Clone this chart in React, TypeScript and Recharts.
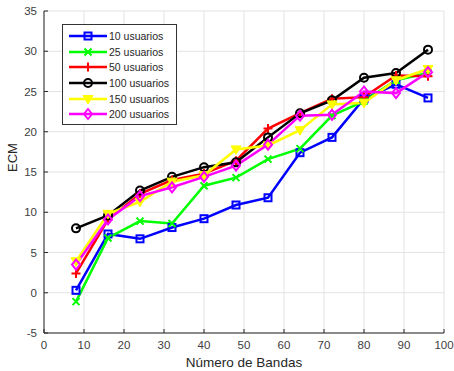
import React from 'react';
import { LineChart, Line, XAxis, YAxis, CartesianGrid, Legend } from 'recharts';

// Número de bandas (eje X)
const bandas = [8, 16, 24, 32, 40, 48, 56, 64, 72, 80, 88, 96];

// ECM por número de usuarios
const ecm10 = [0.3, 7.3, 6.7, 8.1, 9.2, 10.9, 11.8, 17.4, 19.3, 24.1, 25.9, 24.2];
const ecm25 = [-1.1, 6.8, 8.9, 8.6, 13.3, 14.3, 16.6, 17.9, 22.0, 23.8, 26.4, 27.3];
const ecm50 = [2.4, 9.1, 12.3, 14.0, 14.8, 16.4, 20.4, 22.3, 24.1, 24.3, 27.0, 26.9];
const ecm100 = [8.0, 9.6, 12.7, 14.4, 15.6, 16.2, 19.3, 22.3, 23.9, 26.7, 27.3, 30.2];
const ecm150 = [3.9, 9.8, 11.3, 13.8, 14.6, 17.8, 18.3, 20.2, 23.4, 23.6, 26.4, 27.8];
const ecm200 = [3.5, 9.1, 12.0, 13.1, 14.4, 15.8, 18.4, 22.0, 22.1, 25.0, 24.8, 27.4];

const xTicks = [0, 10, 20, 30, 40, 50, 60, 70, 80, 90, 100];
const yTicks = [-5, 0, 5, 10, 15, 20, 25, 30, 35];

type Marker = 'square' | 'x' | 'plus' | 'circle' | 'triangle' | 'diamond';

const series: { key: string; name: string; color: string; marker: Marker; values: number[] }[] = [
  { key: 'u10', name: '10 usuarios', color: '#0000ff', marker: 'square', values: ecm10 },
  { key: 'u25', name: '25 usuarios', color: '#00ff00', marker: 'x', values: ecm25 },
  { key: 'u50', name: '50 usuarios', color: '#ff0000', marker: 'plus', values: ecm50 },
  { key: 'u100', name: '100 usuarios', color: '#000000', marker: 'circle', values: ecm100 },
  { key: 'u150', name: '150 usuarios', color: '#ffff00', marker: 'triangle', values: ecm150 },
  { key: 'u200', name: '200 usuarios', color: '#ff00ff', marker: 'diamond', values: ecm200 },
];

const data = bandas.map((b, i) => {
  const row: Record<string, number> = { bandas: b };
  series.forEach((s) => { row[s.key] = s.values[i]; });
  return row;
});

const FONT = '"Liberation Sans", Arial, sans-serif';
const AXIS = '#262626';
const TICK_TEXT = '#404040';

const drawMarker = (marker: Marker, cx: number, cy: number, color: string, key?: React.Key) => {
  const sw = 2;
  switch (marker) {
    case 'square':
      return <rect key={key} x={cx - 3.5} y={cy - 3.5} width={7} height={7} fill="none" stroke={color} strokeWidth={sw} />;
    case 'x':
      return (
        <path key={key} d={`M${cx - 3.5},${cy - 3.5}L${cx + 3.5},${cy + 3.5}M${cx - 3.5},${cy + 3.5}L${cx + 3.5},${cy - 3.5}`}
          stroke={color} strokeWidth={sw} fill="none" />
      );
    case 'plus':
      return (
        <path key={key} d={`M${cx - 4.5},${cy}L${cx + 4.5},${cy}M${cx},${cy - 4.5}L${cx},${cy + 4.5}`}
          stroke={color} strokeWidth={sw} fill="none" />
      );
    case 'circle':
      return <circle key={key} cx={cx} cy={cy} r={4} fill="none" stroke={color} strokeWidth={sw} />;
    case 'triangle':
      return (
        <path key={key} d={`M${cx - 5},${cy - 3.5}L${cx + 5},${cy - 3.5}L${cx},${cy + 5}Z`}
          fill={color} stroke={color} strokeWidth={1} />
      );
    case 'diamond':
      return (
        <path key={key} d={`M${cx},${cy - 5}L${cx + 4},${cy}L${cx},${cy + 5}L${cx - 4},${cy}Z`}
          fill="none" stroke={color} strokeWidth={sw} />
      );
  }
};

const LegendBox = () => (
  <div
    style={{
      border: '1px solid #333',
      background: '#fff',
      width: 113,
      padding: '3px 0 2px 0',
      fontFamily: FONT,
      fontSize: 10.5,
      color: '#262626',
    }}
  >
    {series.map((s) => (
      <div key={s.key} style={{ display: 'flex', alignItems: 'center', height: 15.7 }}>
        <svg width={46} height={14} style={{ flex: 'none' }}>
          <line x1={6} y1={7} x2={44} y2={7} stroke={s.color} strokeWidth={2.5} />
          {drawMarker(s.marker, 25, 7, s.color)}
        </svg>
        <span style={{ marginLeft: 0 }}>{s.name}</span>
      </div>
    ))}
  </div>
);

export default function App() {
  return (
    <div style={{ position: 'absolute', left: 0, top: 0, width: 454, height: 371, background: '#fff' }}>
      <LineChart width={454} height={371} data={data} margin={{ top: 11, right: 10, bottom: 0, left: 0 }}>
        <CartesianGrid stroke="#e3e3e3" strokeWidth={1} xAxisId="b" yAxisId="l" />
        <XAxis
          xAxisId="b"
          dataKey="bandas"
          type="number"
          domain={[0, 100]}
          ticks={xTicks}
          interval={0}
          height={38}
          tickSize={-4}
          tickMargin={12}
          stroke={AXIS}
          tick={{ fill: TICK_TEXT, fontSize: 11.5, fontFamily: FONT }}
          label={{ value: 'Número de Bandas', position: 'insideBottom', offset: 4, fill: '#262626', fontSize: 13.5, fontFamily: FONT }}
        />
        <XAxis xAxisId="t" orientation="top" type="number" domain={[0, 100]} ticks={xTicks} height={0} tickSize={-4} tick={false} stroke={AXIS} />
        <YAxis
          yAxisId="l"
          type="number"
          domain={[-5, 35]}
          ticks={yTicks}
          interval={0}
          width={44}
          tickSize={-4}
          tickMargin={11}
          stroke={AXIS}
          tick={{ fill: TICK_TEXT, fontSize: 11.5, fontFamily: FONT }}
          label={{ value: 'ECM', angle: -90, position: 'insideLeft', offset: 12, fill: '#262626', fontSize: 13, fontFamily: FONT }}
        />
        <YAxis yAxisId="r" orientation="right" type="number" domain={[-5, 35]} ticks={yTicks} width={0} tickSize={-4} tick={false} stroke={AXIS} />
        <Legend
          verticalAlign="middle"
          layout="horizontal"
          wrapperStyle={{ top: 24, left: 62, width: 115 }}
          content={() => <LegendBox />}
        />
        {series.map((s) => (
          <Line
            key={s.key}
            xAxisId="b"
            yAxisId="l"
            dataKey={s.key}
            name={s.name}
            type="linear"
            stroke={s.color}
            strokeWidth={2.5}
            isAnimationActive={false}
            dot={(p: any) => drawMarker(s.marker, p.cx, p.cy, s.color, `${s.key}-${p.index}`) as React.ReactElement}
            activeDot={false}
          />
        ))}
      </LineChart>
    </div>
  );
}
